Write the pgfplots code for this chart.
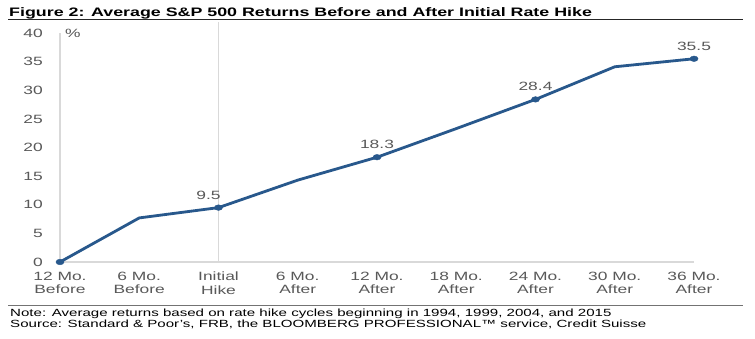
\documentclass[border=0pt]{standalone}
\usepackage{pgfplots}
\pgfplotsset{compat=1.18}
\usepackage{fontspec}
\setmainfont{Liberation Sans}[FakeStretch=1.45]
\definecolor{csblue}{RGB}{40,88,140}
\definecolor{tickgray}{RGB}{89,89,89}
\definecolor{gridgray}{RGB}{217,217,217}
\begin{document}
\begin{tikzpicture}
\path[fill=white] (0,0) rectangle (755pt,338pt);
\node[anchor=base west, inner sep=0pt, font=\fontsize{12.3}{14}\selectfont\bfseries] at (9pt,321pt) {Figure 2: Average S\&P 500 Returns Before and After Initial Rate Hike};
\draw[line width=1.1pt, black!85] (8pt,318.3pt) -- (743pt,318.3pt);
\draw[line width=0.8pt, black!55] (8pt,33pt) -- (743pt,33pt);
\node[anchor=base west, inner sep=0pt, font=\fontsize{10.4}{12}\selectfont] at (10pt,21.5pt) {Note: Average returns based on rate hike cycles beginning in 1994, 1999, 2004, and 2015};
\node[anchor=base west, inner sep=0pt, font=\fontsize{10.4}{12}\selectfont] at (10pt,11pt) {Source: Standard \& Poor’s, FRB, the BLOOMBERG PROFESSIONAL™ service, Credit Suisse};
\begin{axis}[
  at={(60pt,76pt)}, anchor=south west,
  scale only axis, width=634pt, height=229pt,
  xmin=0, xmax=8, ymin=0, ymax=40,
  clip=false,
  axis x line=bottom, axis y line=left,
  axis line style={gridgray, line width=1.2pt, -},
  tick style={draw=none},
  major tick length=0pt,
  xtick={0,...,8},
  xticklabels={{12 Mo.\\Before},{6 Mo.\\Before},{Initial\\Hike},{6 Mo.\\After},{12 Mo.\\After},{18 Mo.\\After},{24 Mo.\\After},{30 Mo.\\After},{36 Mo.\\After}},
  ytick={0,5,...,40},
  ticklabel style={text=tickgray, font=\fontsize{12}{13.3}\selectfont},
  xticklabel style={align=center, anchor=north, inner sep=0pt, yshift=-10pt},
  yticklabel style={anchor=east, inner sep=0pt, xshift=-17pt},
  /pgf/number format/assume math mode=true,
]
\draw[gridgray, line width=1.2pt] (axis cs:2,0) -- (axis cs:2,41.9);
\node[anchor=west, inner sep=0pt, text=tickgray, font=\fontsize{12}{13.3}\selectfont] at (axis cs:0,40) [xshift=5pt] {\%};
\addplot[csblue, line width=2.8pt, line join=round] coordinates {(0,0) (1,7.7) (2,9.5) (3,14.3) (4,18.3) (5,23.3) (6,28.4) (7,34.1) (8,35.5)};
\addplot[only marks, mark=*, mark size=2.8pt, csblue, mark options={xscale=1.45},
  point meta=explicit symbolic, nodes near coords,
  nodes near coords style={anchor=base, yshift=8.5pt, inner sep=0pt, text=tickgray, font=\fontsize{12}{13.3}\selectfont}]
  coordinates {(0,0) [] (4,18.3) [18.3] (6,28.4) [28.4] (8,35.5) [35.5]};
\addplot[only marks, mark=*, mark size=2.8pt, csblue, mark options={xscale=1.45},
  point meta=explicit symbolic, nodes near coords,
  nodes near coords style={anchor=base, yshift=8.5pt, xshift=-10pt, inner sep=0pt, text=tickgray, font=\fontsize{12}{13.3}\selectfont}]
  coordinates {(2,9.5) [9.5]};
\end{axis}
\end{tikzpicture}
\end{document}
